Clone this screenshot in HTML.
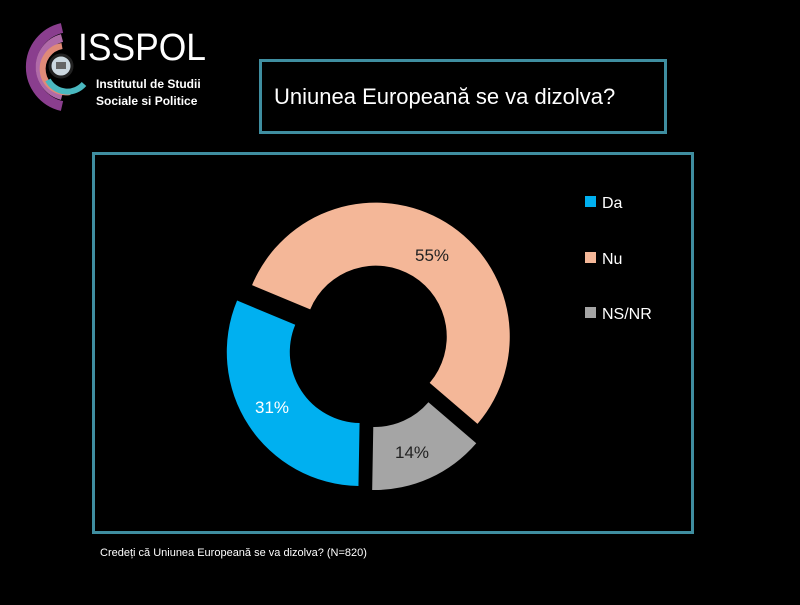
<!DOCTYPE html>
<html><head><meta charset="utf-8"><style>
body{margin:0;background:#000;width:800px;height:600px;overflow:hidden;font-family:"Liberation Sans",sans-serif}
</style></head><body>
<svg id="s" width="800" height="600" xmlns="http://www.w3.org/2000/svg">
<rect width="800" height="600" fill="#000"/>
<g fill="none">
<path d="M62 28 A40 40 0 0 0 62 106" stroke="#8a3e8e" stroke-width="10"/>
<path d="M62 38 A30 30 0 0 0 62 96" stroke="#b06aa8" stroke-width="8"/>
<path d="M62 46 A22 22 0 0 0 70 92" stroke="#e08a78" stroke-width="6"/>
<path d="M48 80 A22 22 0 0 0 84 84" stroke="#4ab8c0" stroke-width="6"/>
</g>
<circle cx="61" cy="66" r="11" fill="#ccd8e0" stroke="#222" stroke-width="3"/>
<rect x="56" y="62" width="10" height="7" fill="#666"/>
<text x="78" y="60" fill="#fff" font-size="38" textLength="128" lengthAdjust="spacingAndGlyphs">ISSPOL</text>
<text x="96" y="88" fill="#fff" font-size="12" font-weight="bold">Institutul de Studii</text>
<text x="96" y="105" fill="#fff" font-size="12" font-weight="bold">Sociale si Politice</text>
<rect x="260.5" y="60.5" width="405" height="72" fill="none" stroke="#3f8ea0" stroke-width="3"/>
<text x="274" y="104" fill="#fff" font-size="22">Uniunea Europeană se va dizolva?</text>
<rect x="93.5" y="153.5" width="599" height="379" fill="none" stroke="#3f8ea0" stroke-width="3"/>
<g id="pie"></g>
<text x="432" y="261" fill="#222" font-size="17" text-anchor="middle">55%</text>
<text x="272" y="413" fill="#fff" font-size="17" text-anchor="middle">31%</text>
<text x="412" y="458" fill="#222" font-size="17" text-anchor="middle">14%</text>
<rect x="585" y="196" width="11" height="11" fill="#00b0f0"/>
<text x="602" y="208" fill="#fff" font-size="16">Da</text>
<rect x="585" y="252" width="11" height="11" fill="#f4b798"/>
<text x="602" y="264" fill="#fff" font-size="16">Nu</text>
<rect x="585" y="307" width="11" height="11" fill="#a5a5a5"/>
<text x="602" y="319" fill="#fff" font-size="16">NS/NR</text>
<text x="100" y="556" fill="#fff" font-size="11">Credeți că Uniunea Europeană se va dizolva? (N=820)</text>
</svg>
<script>
var cx=370,cy=346,R=134,r=71,d=11,start=181;
var data=[[31,"#00b0f0"],[55,"#f4b798"],[14,"#a5a5a5"]];
var g=document.getElementById("pie"),a=start,ns="http://www.w3.org/2000/svg";
function pt(x,y,rad,deg){var t=deg*Math.PI/180;return [x+rad*Math.sin(t),y-rad*Math.cos(t)];}
data.forEach(function(s){var sw=s[0]*3.6,b=a+sw,m=a+sw/2;
var o=pt(cx,cy,d,m),X=o[0],Y=o[1];
var p1=pt(X,Y,R,a),p2=pt(X,Y,R,b),p3=pt(X,Y,r,b),p4=pt(X,Y,r,a),L=sw>180?1:0;
var p=document.createElementNS(ns,"path");
p.setAttribute("d","M"+p1+" A"+R+" "+R+" 0 "+L+" 1 "+p2+" L"+p3+" A"+r+" "+r+" 0 "+L+" 0 "+p4+"Z");
p.setAttribute("fill",s[1]);g.appendChild(p);a=b;});
</script>
</body></html>
